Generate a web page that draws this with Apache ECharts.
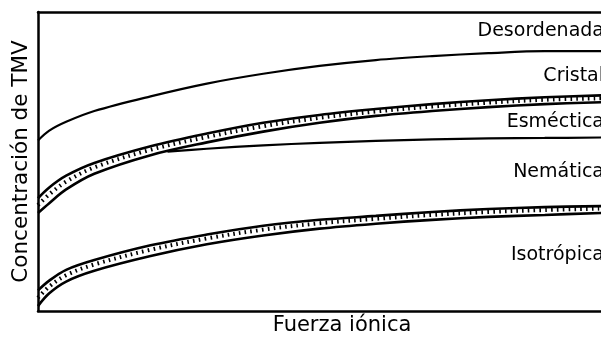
<!DOCTYPE html>
<html>
<head>
<meta charset="utf-8">
<script src="https://cdn.jsdelivr.net/npm/echarts@6/dist/echarts.min.js"></script>
<style>
html,body{margin:0;padding:0;background:#fff;}
#chart{width:601px;height:341px;}
</style>
</head>
<body>
<div id="chart"></div>
<script>
// Ionic strength (arbitrary units)
var ionicStrength = [0, 0.2, 0.5, 1, 2, 3, 4, 5, 6, 7, 8, 9, 10];

// Boundary Desordenada / Cristal
var disorderedBoundary = [174, 184, 193, 204, 219, 232, 242, 250, 256, 260, 263, 265, 265];

// Boundary Cristal / Esméctica (double line with hatching)
var crystalUpper = [115, 126, 138, 151, 168, 181, 192, 200, 206, 211, 215, 218, 220];
var crystalHatch = [108, 119, 132, 146.5, 164.5, 177.5, 188.5, 197, 203.5, 208.5, 212.5, 215.5, 217];
var crystalLower = [100, 110, 124, 140, 159, 172, 183, 192, 199, 204, 208, 211, 213];

// Boundary Esméctica / Nemática (branches off)
var smecticX = [2.3, 3, 4, 5, 6, 7, 8, 9, 10];
var smecticBoundary = [162.5, 165.5, 169, 171.5, 173.5, 175, 176, 176.5, 177];

// Boundary Nemática / Isotrópica (double line with hatching)
var nematicUpper = [21, 31, 42, 52, 67, 78, 87, 93, 97, 101, 104, 106, 107];
var nematicHatch = [13.5, 25, 36.5, 47.5, 62.5, 74, 83, 89.5, 94, 98, 101, 103, 104.5];
var nematicLower = [5, 18, 30, 41, 56, 68, 77, 84, 89, 93, 96, 98, 100];

// Region labels
var regionNames = ['Desordenada', 'Cristal', 'Esméctica', 'Nemática', 'Isotrópica'];
var regionLabelY = [286, 240, 193, 142, 57];

var FONT = 'DejaVu Sans';

function pairs(xs, ys) {
  return xs.map(function (x, i) { return [x, ys[i]]; });
}

function solid(data, w) {
  return {
    type: 'line', data: data, symbol: 'none', smooth: 0.35,
    lineStyle: { color: '#000', width: w }, silent: true, z: 3
  };
}
function hatch(data) {
  return {
    type: 'line', data: data, symbol: 'none', smooth: 0.35,
    lineStyle: { color: '#000', width: 4, type: [1.6, 4.2] }, silent: true, z: 2
  };
}

var chart = echarts.init(document.getElementById('chart'), null, { renderer: 'canvas' });
chart.setOption({
  animation: false,
  backgroundColor: '#fff',
  grid: { left: 38, right: 0, top: 12, bottom: 24 },
  xAxis: [{
    type: 'value', min: 0, max: 10, position: 'bottom',
    name: 'Fuerza iónica', nameLocation: 'middle', nameGap: 4,
    nameTextStyle: { fontFamily: FONT, fontSize: 21, color: '#000', padding: [0, 0, 0, 45] },
    axisLine: { show: true, onZero: false, lineStyle: { color: '#000', width: 2.5 } },
    axisTick: { show: false }, axisLabel: { show: false }, splitLine: { show: false }
  }, {
    type: 'value', min: 0, max: 10, position: 'top',
    axisLine: { show: true, onZero: false, lineStyle: { color: '#000', width: 2.5 } },
    axisTick: { show: false }, axisLabel: { show: false }, splitLine: { show: false }
  }],
  yAxis: {
    type: 'value', min: 0, max: 305,
    name: 'Concentración de TMV', nameLocation: 'middle', nameGap: 6,
    nameTextStyle: { fontFamily: FONT, fontSize: 21.5, color: '#000' },
    axisLine: { show: true, onZero: false, lineStyle: { color: '#000', width: 2.5 } },
    axisTick: { show: false }, axisLabel: { show: false }, splitLine: { show: false }
  },
  series: [
    solid(pairs(ionicStrength, disorderedBoundary), 2.2),
    hatch(pairs(ionicStrength, crystalHatch)),
    solid(pairs(ionicStrength, crystalUpper), 2.6),
    solid(pairs(ionicStrength, crystalLower), 2.6),
    solid(pairs(smecticX, smecticBoundary), 2.2),
    hatch(pairs(ionicStrength, nematicHatch)),
    solid(pairs(ionicStrength, nematicUpper), 2.6),
    solid(pairs(ionicStrength, nematicLower), 2.6),
    {
      type: 'scatter', symbolSize: 0, silent: true, z: 5,
      itemStyle: { opacity: 1, color: '#000' },
      data: regionNames.map(function (n, i) { return { name: n, value: [10, regionLabelY[i]] }; }),
      label: {
        show: true, position: 'left', distance: -3,
        formatter: function (p) { return p.name; },
        fontFamily: FONT, fontSize: 19, color: '#000', opacity: 1,
        textBorderWidth: 0
      }
    }
  ]
});
</script>
</body>
</html>
